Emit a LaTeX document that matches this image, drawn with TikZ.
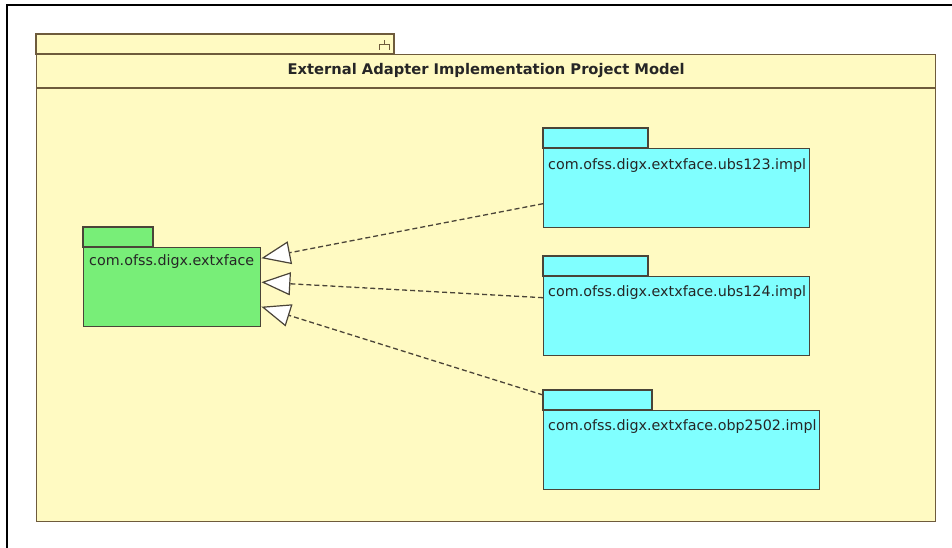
\documentclass[tikz,border=0pt]{standalone}
\usepackage{fontspec}
\setmainfont{DejaVu Sans}
\usetikzlibrary{calc}
\usetikzlibrary{arrows.meta}
\definecolor{modelyellow}{HTML}{FFFAC2}
\definecolor{modelbrown}{HTML}{6E5B3C}
\definecolor{pkggreen}{HTML}{78EE78}
\definecolor{pkgcyan}{HTML}{80FFFF}
\definecolor{pkgedge}{HTML}{4A4438}
\tikzset{
  pkg/.style= {draw=pkgedge, line width=1.4pt, rectangle, anchor=north west, inner sep=0pt, minimum height=79pt},
  pkgtab/.style= {draw=pkgedge, line width=1.4pt},
  pkgname/.style= {anchor=west, inner sep=0pt, font=\fontsize{14.3}{16}\selectfont, text=black!85},
  realize/.style= {draw=pkgedge, line width=1.3pt, dash pattern=on 5pt off 3pt,
    -{Triangle[open, length=29pt, width=23pt, fill=white, line width=1.2pt]}},
}

\begin{document}
\begin{tikzpicture}[x=1pt, y=-1pt]
  \useasboundingbox (0,0) rectangle (952,548);
  \fill [white] (0,0) rectangle (952,548);
  \draw [black, line width=2pt] (7,548) -- (7,5) -- (952,5);

  % model frame
  \draw [fill=modelyellow, draw=modelbrown, line width=1.4pt] (36,34) rectangle (394,54);
  \node [rectangle, draw=modelbrown, fill=modelyellow, line width=1.4pt, anchor=north west,
    minimum width=899pt, minimum height=467pt, inner sep=0pt] (model) at (36,54) {};
  \draw [modelbrown, line width=1.4pt] ($(model.north west)+(0,34)$) -- ($(model.north east)+(0,34)$);
  \node [font=\bfseries\fontsize{14.7}{16}\selectfont, text=black!85] (title) at ($(model.north)+(0,17)$) {External Adapter Implementation Project Model};
  \draw [modelbrown, line width=1pt] (379,50) -- (379,45) -- (389,45) -- (389,50) (384,45) -- (384,40);

  % packages
  \node [pkg, fill=pkggreen, minimum width=177pt] (face) at (83,247) {};
  \draw [pkgtab, fill=pkggreen] (face.north west) rectangle ++(70,-20);
  \node [pkgname] (facename) at ($(face.north west)+(6,15)$) {com.ofss.digx.extxface};

  \node [pkg, fill=pkgcyan, minimum width=266pt] (impla) at (543,148) {};
  \draw [pkgtab, fill=pkgcyan] (impla.north west) rectangle ++(105,-20);
  \node [pkgname] (implaname) at ($(impla.north west)+(5,18)$) {com.ofss.digx.extxface.ubs123.impl};

  \node [pkg, fill=pkgcyan, minimum width=266pt] (implb) at (543,276) {};
  \draw [pkgtab, fill=pkgcyan] (implb.north west) rectangle ++(105,-20);
  \node [pkgname] (implbname) at ($(implb.north west)+(5,17)$) {com.ofss.digx.extxface.ubs124.impl};

  \node [pkg, fill=pkgcyan, minimum width=276pt] (implc) at (543,410) {};
  \draw [pkgtab, fill=pkgcyan] (implc.north west) rectangle ++(109,-20);
  \node [pkgname] (implcname) at ($(implc.north west)+(5,17)$) {com.ofss.digx.extxface.obp2502.impl};

  % realizations
  \draw [realize] ($(impla.west)+(0,15.5)$) -- ($(face.east)+(0,-29)$);
  \draw [realize] ($(implb.west)+(0,-18.5)$) -- ($(face.east)+(0,-5)$);
  \draw [realize] ($(implc.north west)+(0,-15)$) -- ($(face.east)+(0,19.5)$);
\end{tikzpicture}
\end{document}
